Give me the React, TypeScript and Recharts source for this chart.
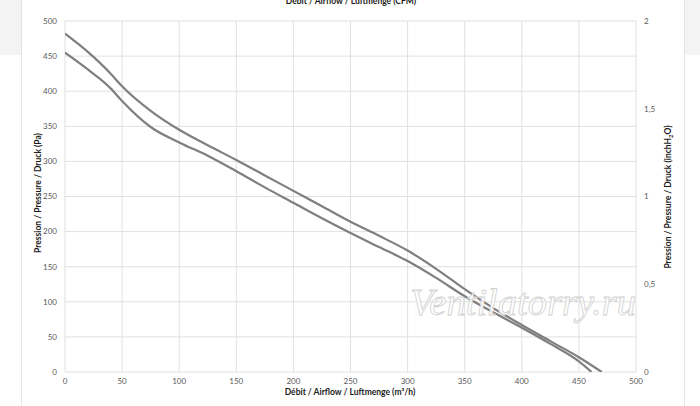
import { ComposedChart, Line, XAxis, YAxis, CartesianGrid } from "recharts";

// airflow in m³/h, pressure in Pa
const upperAirflow = [0, 20, 40, 50, 75, 100, 125, 150, 175, 200, 225, 250, 275, 300, 325, 350, 375, 400, 425, 450, 470];
const upperPressure = [482, 456, 425, 407, 372, 345, 323, 302, 280, 258, 236, 214, 194, 173, 147, 118, 91, 67, 44, 21, 0];

const lowerAirflow = [0, 20, 40, 50, 75, 100, 125, 150, 175, 200, 225, 250, 275, 300, 325, 350, 375, 400, 425, 450, 461];
const lowerPressure = [455, 431, 404, 386, 349, 327, 308, 286, 263, 241, 219, 198, 178, 158, 134, 108, 85, 63, 40, 15, 0];

const m3hTicks = [0, 50, 100, 150, 200, 250, 300, 350, 400, 450, 500];
const cfmTicks = [0, 50, 100, 150, 200, 250];
const paTicks = [0, 50, 100, 150, 200, 250, 300, 350, 400, 450, 500];
const inchTicks = [0, 0.5, 1, 1.5, 2];

const M3H_PER_CFM = 1.699;

const upper = upperAirflow.map((q, i) => ({ q, p: upperPressure[i] }));
const lower = lowerAirflow.map((q, i) => ({ q, p: lowerPressure[i] }));

const tickStyle = { fontSize: 8, fill: "#595959", fontFamily: "Lato" };
const titleStyle = { fontSize: 8.5, fontWeight: 700, fill: "#1a1a1a", fontFamily: "Lato" };

export default function App() {
  return (
    <div style={{ position: "absolute", left: 0, top: 0, width: 700, height: 406, background: "#fff", overflow: "hidden" }}>
      {/* grey page band behind the card */}
      <div style={{ position: "absolute", left: 0, top: 0, width: 700, height: 55, background: "#f3f3f3" }} />
      <div
        style={{
          position: "absolute",
          left: 21,
          top: 0,
          width: 662,
          height: 406,
          background: "#fff",
          borderLeft: "1px solid #e4e4e4",
          borderRight: "1px solid #e4e4e4",
        }}
      />
      <div style={{ position: "absolute", left: 0, top: 0 }}>
        <ComposedChart width={700} height={406} margin={{ top: 0, right: 0, bottom: 0, left: 0 }}>
          <CartesianGrid xAxisId="m3h" yAxisId="pa" stroke="#e0e0e0" strokeWidth={1} />
          <XAxis
            xAxisId="m3h"
            type="number"
            dataKey="q"
            domain={[0, 500]}
            ticks={m3hTicks}
            height={34}
            axisLine={false}
            tickLine={false}
            tickSize={0}
            tickMargin={6}
            tick={tickStyle}
            allowDataOverflow
          />
          <XAxis
            xAxisId="cfm"
            orientation="top"
            type="number"
            domain={[0, 500 / M3H_PER_CFM]}
            ticks={cfmTicks}
            height={21}
            axisLine={false}
            tickLine={false}
            tickSize={0}
            tickMargin={7}
            tick={tickStyle}
            allowDataOverflow
          />
          <YAxis
            yAxisId="pa"
            type="number"
            domain={[0, 500]}
            ticks={paTicks}
            width={65}
            axisLine={false}
            tickLine={false}
            tickSize={0}
            tickMargin={8}
            tick={tickStyle}
            allowDataOverflow
          />
          <YAxis
            yAxisId="inch"
            orientation="right"
            type="number"
            domain={[0, 2]}
            ticks={inchTicks}
            width={64}
            axisLine={false}
            tickLine={false}
            tickSize={0}
            tickMargin={8}
            tick={tickStyle}
            tickFormatter={(v: number) => String(v).replace(".", ",")}
            allowDataOverflow
          />
          <Line
            xAxisId="m3h"
            yAxisId="pa"
            data={upper}
            dataKey="p"
            type="monotone"
            stroke="#7f7f7f"
            strokeWidth={2.2}
            dot={false}
            isAnimationActive={false}
          />
          <Line
            xAxisId="m3h"
            yAxisId="pa"
            data={lower}
            dataKey="p"
            type="monotone"
            stroke="#7f7f7f"
            strokeWidth={2.2}
            dot={false}
            isAnimationActive={false}
          />
        </ComposedChart>
      </div>
      {/* axis titles and watermark */}
      <svg width={700} height={406} style={{ position: "absolute", left: 0, top: 0, pointerEvents: "none" }}>
        <text x={351} y={4} textAnchor="middle" style={titleStyle}>
          Débit / Airflow / Luftmenge (CFM)
        </text>
        <text x={350} y={395} textAnchor="middle" style={titleStyle}>
          Débit / Airflow / Luftmenge (m³/h)
        </text>
        <text x={41} y={193} textAnchor="middle" transform="rotate(-90 41 193)" style={titleStyle}>
          Pression / Pressure / Druck (Pa)
        </text>
        <text x={671} y={197} textAnchor="middle" transform="rotate(-90 671 197)" style={titleStyle}>
          Pression / Pressure / Druck (inchH
          <tspan fontSize={6} dy={2}>2</tspan>
          <tspan dy={-2}>O)</tspan>
        </text>
        <text
          x={410}
          y={315}
          textLength={226}
          lengthAdjust="spacingAndGlyphs"
          style={{
            fontSize: 38,
            fontStyle: "italic",
            fontFamily: "Liberation Serif",
            fill: "#ffffff",
            fillOpacity: 0.85,
            stroke: "#cfcfcf",
            strokeWidth: 0.8,
          }}
        >
          Ventilatorry.ru
        </text>
      </svg>
    </div>
  );
}
